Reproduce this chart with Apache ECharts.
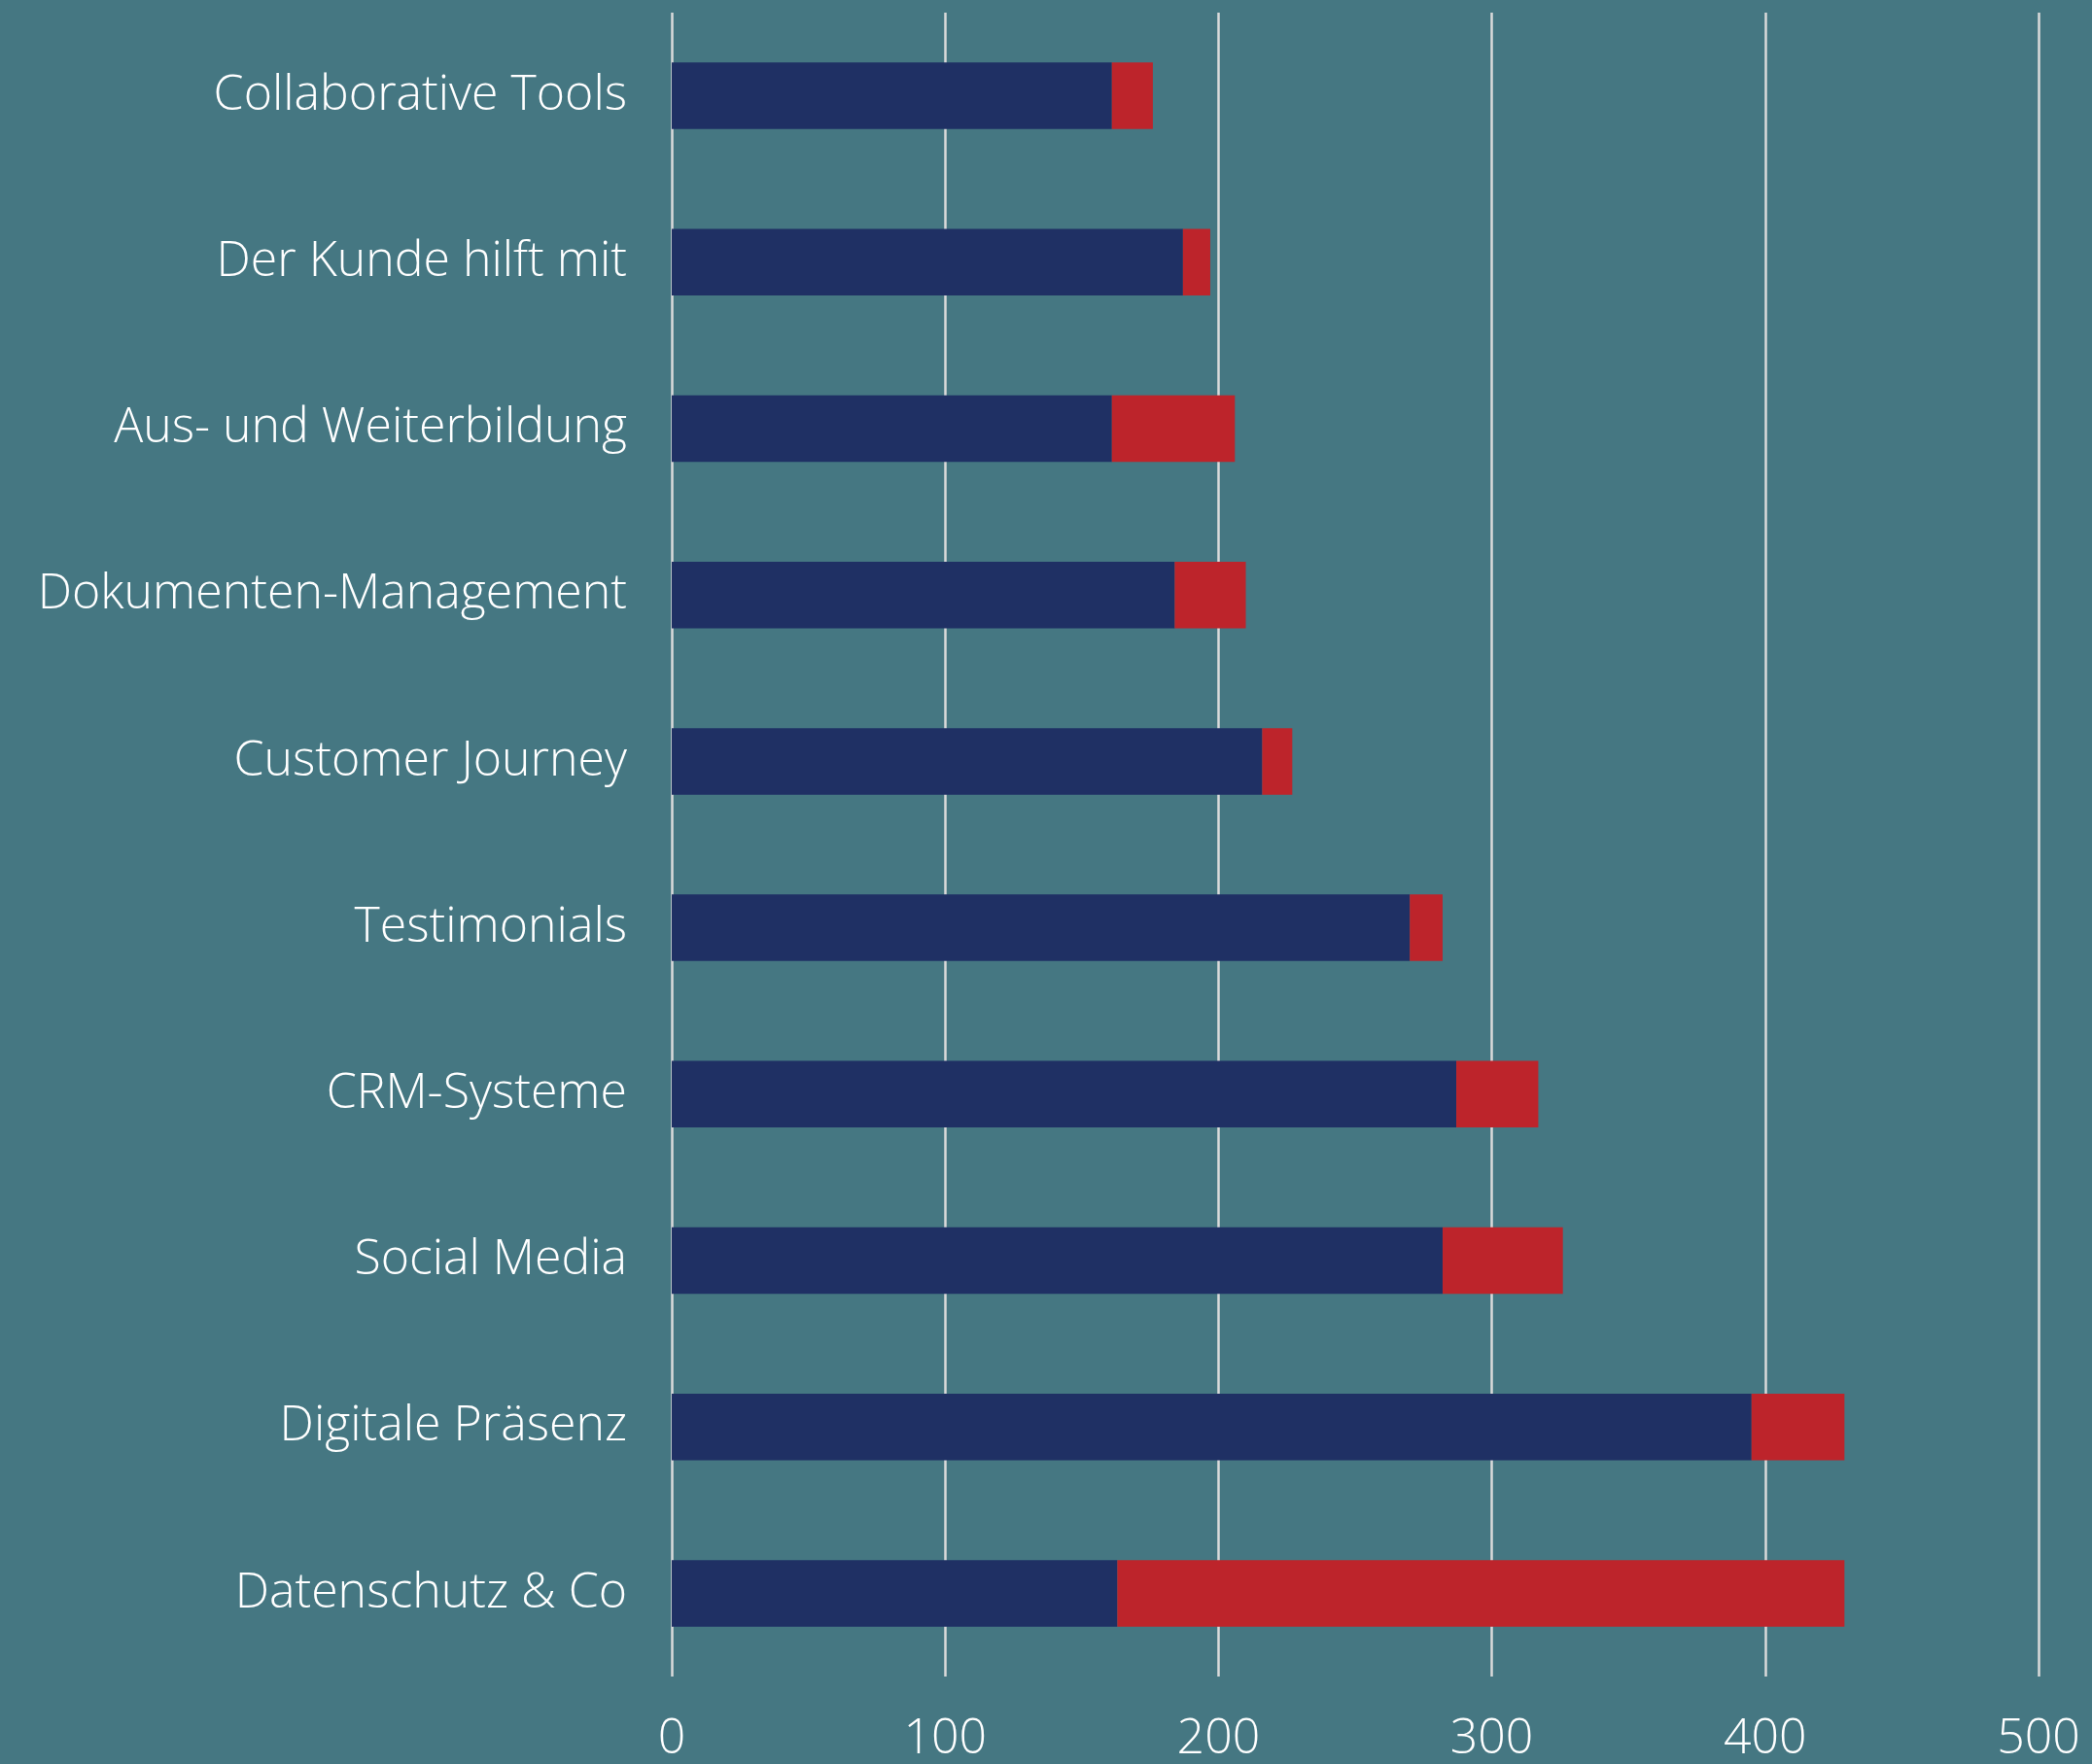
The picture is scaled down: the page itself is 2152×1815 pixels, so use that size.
<!DOCTYPE html>
<html>
<head>
<meta charset="utf-8">
<script src="https://cdn.jsdelivr.net/npm/echarts@6/dist/echarts.min.js"></script>
<style>
  html, body { margin: 0; padding: 0; background: #457782; }
  #chart { width: 2152px; height: 1815px; }
</style>
</head>
<body>
<div id="chart"></div>
<script>
// Categories, top to bottom
const categories = [
    'Collaborative Tools',
    'Der Kunde hilft mit',
    'Aus- und Weiterbildung',
    'Dokumenten-Management',
    'Customer Journey',
    'Testimonials',
    'CRM-Systeme',
    'Social Media',
    'Digitale Präsenz',
    'Datenschutz & Co'
];

// Stacked series values
const blueValues = [161, 187, 161, 184, 216, 270, 287, 282, 395, 163];
const redValues = [15, 10, 45, 26, 11, 12, 30, 44, 34, 266];

// X axis ticks
const xMin = 0;
const xMax = 500;
const xStep = 100;

const colors = {
    bg: '#457782',
    blue: '#1f3064',
    red: '#bd242b',
    grid: '#dadada',
    text: '#ffffff'
};

const fontFamily = '"Open Sans", "Noto Sans", sans-serif';

const chart = echarts.init(document.getElementById('chart'));

const option = {
    backgroundColor: colors.bg,
    animation: false,
    textStyle: { fontFamily: fontFamily },
    grid: {
        left: 691,
        right: 55,
        top: 13,
        height: 1714
    },
    xAxis: {
        type: 'value',
        min: xMin,
        max: xMax,
        interval: xStep,
        axisLine: { show: false },
        axisTick: { show: false },
        axisLabel: {
            color: colors.text,
            fontSize: 50,
            fontWeight: 300,
            fontFamily: fontFamily,
            margin: 40
        },
        splitLine: {
            show: true,
            lineStyle: { color: colors.grid, width: 2.5 }
        }
    },
    yAxis: {
        type: 'category',
        data: categories,
        inverse: true,
        axisLine: { show: false },
        axisTick: { show: false },
        axisLabel: {
            color: colors.text,
            fontSize: 50,
            fontWeight: 300,
            fontFamily: fontFamily,
            margin: 46,
            padding: [16, 0, 0, 0]
        },
        splitLine: { show: false }
    },
    series: [
        {
            type: 'bar',
            stack: 'total',
            data: blueValues,
            barWidth: '40%',
            itemStyle: { color: colors.blue }
        },
        {
            type: 'bar',
            stack: 'total',
            data: redValues,
            barWidth: '40%',
            itemStyle: { color: colors.red }
        }
    ]
};

chart.setOption(option);
</script>
</body>
</html>
